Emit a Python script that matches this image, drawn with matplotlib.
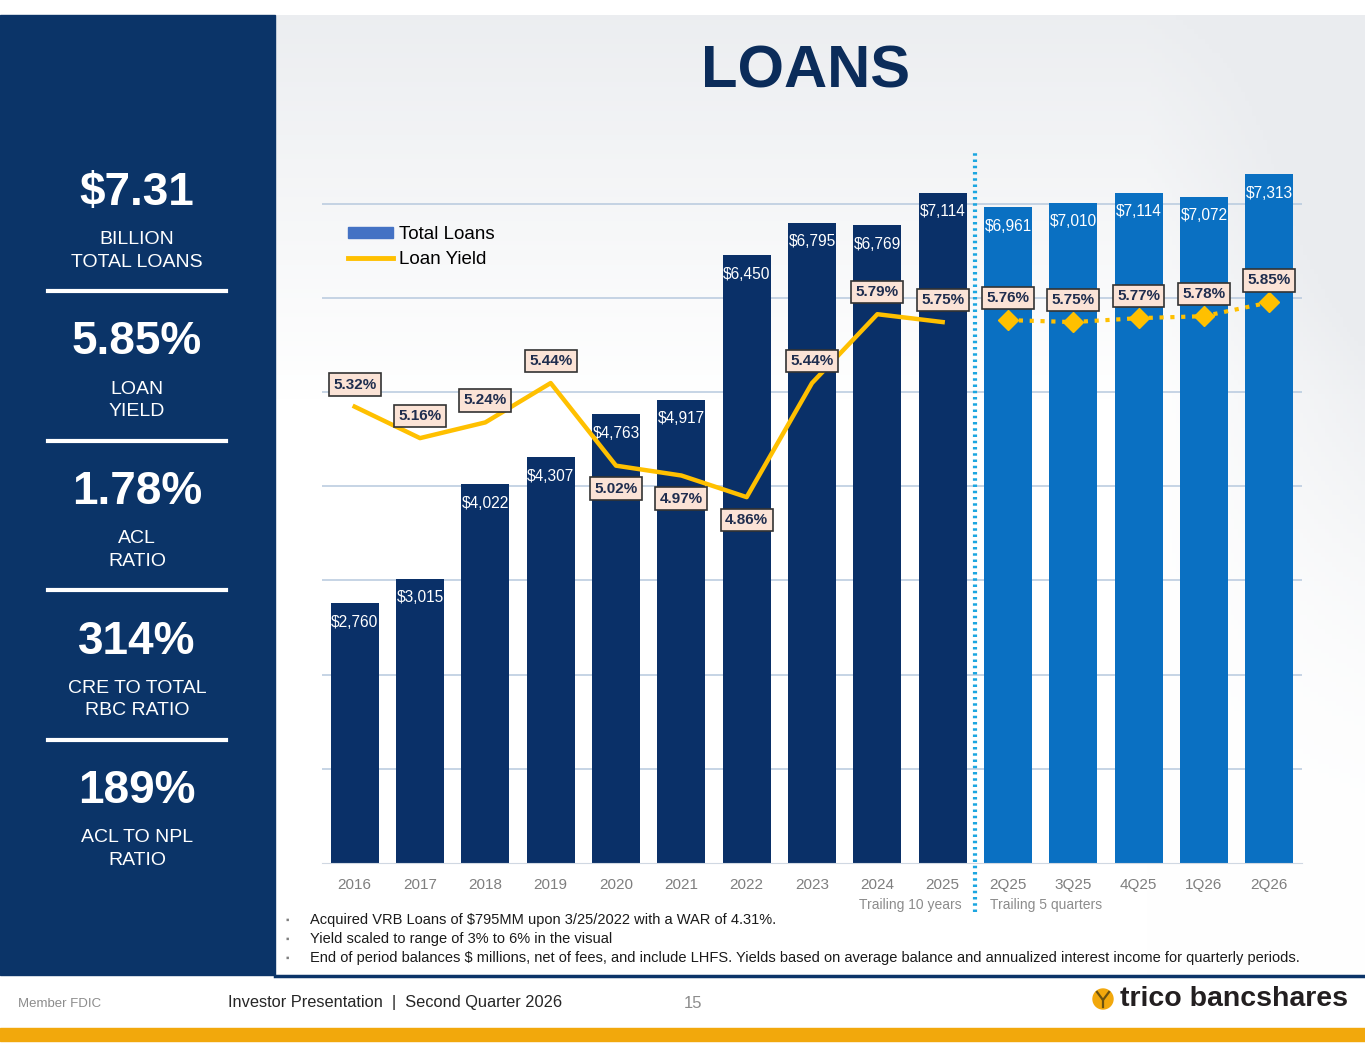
import matplotlib.pyplot as plt
import numpy as np
from matplotlib.patches import Rectangle, Circle, Patch
from matplotlib.lines import Line2D

plt.rcParams['font.family'] = ['Liberation Sans', 'DejaVu Sans']

# ---- data ----
periods = ['2016', '2017', '2018', '2019', '2020', '2021', '2022', '2023', '2024', '2025',
           '2Q25', '3Q25', '4Q25', '1Q26', '2Q26']
loans = [2760, 3015, 4022, 4307, 4763, 4917, 6450, 6795, 6769, 7114,
         6961, 7010, 7114, 7072, 7313]
yields = [5.32, 5.16, 5.24, 5.44, 5.02, 4.97, 4.86, 5.44, 5.79, 5.75,
          5.76, 5.75, 5.77, 5.78, 5.85]
yield_label_below = [False, False, False, False, True, True, True, False, False, False,
                     False, False, False, False, False]
n_years = 10

stats = ['$7.31', '5.85%', '1.78%', '314%', '189%']
stat_labels = ['BILLION\nTOTAL LOANS', 'LOAN\nYIELD', 'ACL\nRATIO',
               'CRE TO TOTAL\nRBC RATIO', 'ACL TO NPL\nRATIO']

notes = ['Acquired VRB Loans of $795MM upon 3/25/2022 with a WAR of 4.31%.',
         'Yield scaled to range of 3% to 6% in the visual',
         'End of period balances $ millions, net of fees, and include LHFS. Yields based on '
         'average balance and annualized interest income for quarterly periods.']

NAVY = '#0B3468'
BAR_YEAR = '#0A3068'
BAR_QTR = '#0A70C2'
GOLD = '#FFC000'
W, H = 1365, 1055

fig = plt.figure(figsize=(W / 100, H / 100), dpi=100)

# background layer in pixel coordinates
bg = fig.add_axes([0, 0, 1, 1])
bg.set_xlim(0, W)
bg.set_ylim(H, 0)
bg.axis('off')

# soft grey/white gradient behind the chart
gy, gx = np.mgrid[0:1:200j, 0:1:300j]
shade = np.clip(0.075 * (1 - gy / 0.4), 0, None) + np.clip(0.07 * (gx - 0.8) / 0.2, 0, None) * np.exp(-((gy - 0.3) / 0.3) ** 2)
shade = np.clip(shade, 0, 0.08)
img = np.dstack([1 - shade * 1.0, 1 - shade * 0.9, 1 - shade * 0.75])
bg.imshow(img, extent=(275, W, 975, 15), aspect='auto', zorder=0)

# left panel
bg.add_patch(Rectangle((0, 15), 275, 960, color=NAVY, zorder=1))
for i, (big, small) in enumerate(zip(stats, stat_labels)):
    y0 = 193 + i * 149.5
    bg.text(137, y0, big, color='white', fontsize=33, fontweight='bold',
            ha='center', va='center', zorder=2)
    bg.text(137, y0 + 58, small, color='white', fontsize=14, ha='center', va='center',
            linespacing=1.45, zorder=2)
    if i < len(stats) - 1:
        bg.plot([48, 226], [y0 + 98, y0 + 98], color='white', lw=3, zorder=2)

# title
bg.text(806, 72, 'LOANS', color='#0B2C5A', fontsize=43, fontweight='bold',
        ha='center', va='center', zorder=2)

# footer
bg.plot([275, W], [975.5, 975.5], color=NAVY, lw=2.5, zorder=2)
bg.add_patch(Rectangle((0, 1028), W, 13, color='#F2A80C', zorder=2))
bg.text(18, 1004, 'Member FDIC', color='#8C8C8C', fontsize=9.5, va='center')
bg.text(228, 1002, 'Investor Presentation  |  Second Quarter 2026', color='#262626',
        fontsize=11.8, va='center')
bg.text(693, 1003, '15', color='#8C8C8C', fontsize=12, ha='center', va='center')
bg.add_patch(Circle((1103, 999), 10, color='#F2A80C', zorder=3))
bg.plot([1097, 1103, 1109], [992, 1000, 992], color='#6B5210', lw=1.6, zorder=4)
bg.plot([1103, 1103], [1000, 1007], color='#6B5210', lw=1.6, zorder=4)
bg.text(1348, 999, 'trico bancshares', color='#231F20', fontsize=20.5, fontweight='bold',
        ha='right', va='center')

# footnotes
for i, note in enumerate(notes):
    yy = 920 + i * 19
    bg.text(286, yy, '\u25aa', color='#7F7F7F', fontsize=7, va='center')
    bg.text(310, yy, note, color='#1A1A1A', fontsize=10.5, va='center')

bg.text(962, 905, 'Trailing 10 years', color='#8C8C8C', fontsize=10, ha='right', va='center')
bg.text(990, 905, 'Trailing 5 quarters', color='#8C8C8C', fontsize=10, ha='left', va='center')

# ---- chart ----
px_left, px_right, px_top, px_bottom = 322, 1302, 119, 863
ax = fig.add_axes([px_left / W, (H - px_bottom) / H, (px_right - px_left) / W,
                   (px_bottom - px_top) / H])
ax.patch.set_alpha(0)
x = np.arange(len(periods))
colors = [BAR_YEAR if i < n_years else BAR_QTR for i in x]
ax.bar(x, loans, width=0.73, color=colors, zorder=2)
ax.set_xlim(-0.5, len(periods) - 0.5)
ax.set_ylim(0, 7898)
ax.set_yticks(range(1000, 8000, 1000))
ax.yaxis.grid(True, color='#B7C9DE', lw=1.1)
ax.set_axisbelow(True)
for s in ['top', 'right', 'left']:
    ax.spines[s].set_visible(False)
ax.spines['bottom'].set_color('#D0D8E2')
ax.set_xticks(x)
ax.set_xticklabels(periods)

for xi, v in zip(x, loans):
    ax.annotate(f'${v:,}', (xi, v), xytext=(0, -19), textcoords='offset pixels',
                ha='center', va='center', color='white', fontsize=11.2, zorder=3)

ax.axvline(n_years - 0.5, ymin=-0.066, ymax=0.958, color='#1CA6E0', lw=3,
           ls=(0, (0.6, 0.9)), clip_on=False, zorder=4)

ay = ax.twinx()
ay.set_ylim(3, 3 + (px_bottom - px_top) / 196.7)
ay.axis('off')
ax.tick_params(left=False, labelleft=False, right=False, bottom=False, labelsize=11,
               labelcolor='#7F7F7F', pad=7)
ay.plot(x[:n_years], yields[:n_years], color=GOLD, lw=3.2, zorder=3)
ay.plot(x[n_years:], yields[n_years:], color=GOLD, lw=3, ls=(0, (1, 1.6)),
        marker='D', ms=10, zorder=3)
for xi, v, below in zip(x, yields, yield_label_below):
    ay.annotate(f'{v:.2f}%', (xi, v), xytext=(0, -23 if below else 22),
                textcoords='offset pixels', ha='center', va='center',
                color='#1F2D4E', fontsize=11, fontweight='bold', zorder=5,
                bbox=dict(boxstyle='square,pad=0.28', fc='#FBE3D6', ec='#333333', lw=1.2))

handles = [Patch(color='#4472C4', label='Total Loans'),
           Line2D([], [], color=GOLD, lw=3.5, label='Loan Yield')]
leg = fig.legend(handles=handles, loc='upper left', bbox_to_anchor=(331 / W, 1 - 209 / H),
                 frameon=False, fontsize=13.5, handlelength=2.4, handleheight=0.5,
                 handletextpad=0.35, labelspacing=0.45)

fig.savefig('out.png', dpi=100)
